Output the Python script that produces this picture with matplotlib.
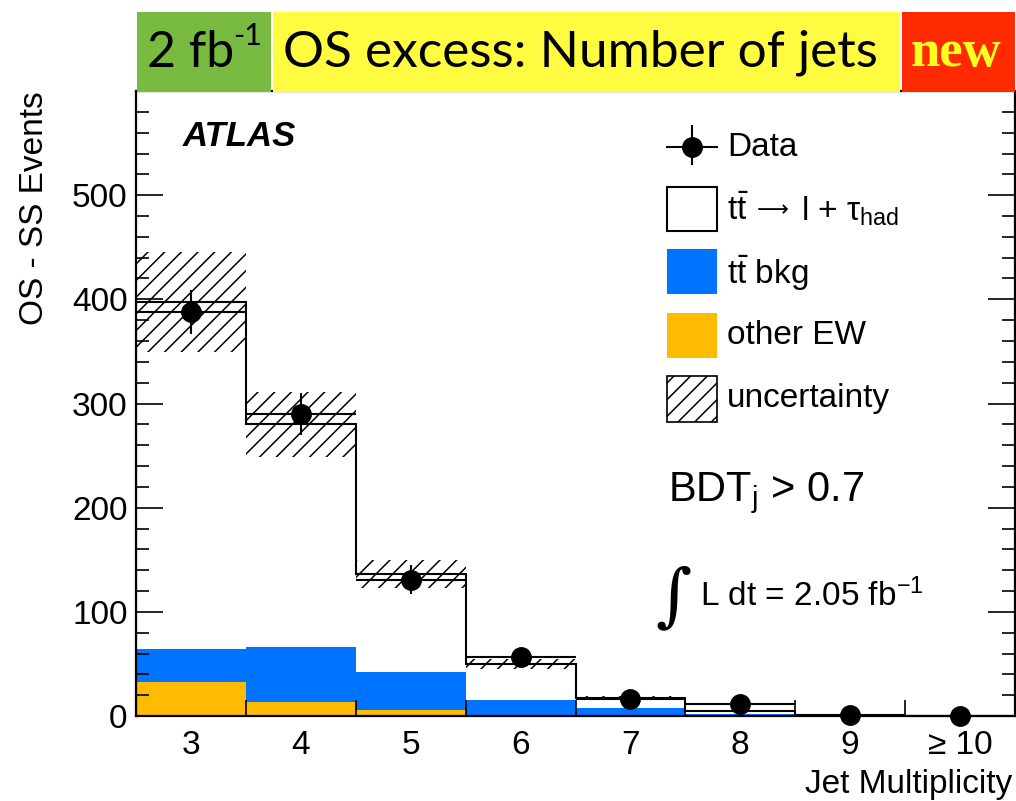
import matplotlib
matplotlib.use("Agg")
import matplotlib.pyplot as plt
from matplotlib.patches import Rectangle
from matplotlib.lines import Line2D
import numpy as np

# ---- values per jet-multiplicity bin ----
jet_labels = ["3", "4", "5", "6", "7", "8", "9", "≥ 10"]
data_counts = [388, 290, 131, 57, 16, 12, 0.5, 0]
data_errors = [21, 20, 14, 8, 4, 3.5, 0, 0]
ttbar_signal = [333, 214, 94, 34.5, 9.6, 2.5, 0, 0]   # tt -> l + tau_had
ttbar_bkg = [31, 53, 36, 15, 7, 1.8, 0, 0]
other_ew = [33, 13, 6, 0.5, 0.4, 0.2, 0, 0]
syst_unc = [48, 31, 13.5, 5, 2, 1, 0, 0]

plt.rcParams["font.family"] = ["Liberation Sans", "DejaVu Sans"]
plt.rcParams["mathtext.fontset"] = "custom"
plt.rcParams["mathtext.rm"] = "Liberation Sans"
plt.rcParams["mathtext.it"] = "Liberation Sans:italic"
plt.rcParams["mathtext.bf"] = "Liberation Sans:bold"
plt.rcParams["hatch.linewidth"] = 1.1

W, H = 1016, 801
fig = plt.figure(figsize=(W / 100, H / 100), dpi=100)


def fx(x):
    return x / W


def fy(y):
    return 1 - y / H


ax = fig.add_axes([fx(136), fy(716), (1015 - 136) / W, (716 - 91) / H])

n = len(jet_labels)
centers = np.arange(3, 3 + n)
edges = np.arange(2.5, 3 + n, 1.0)
ew = np.array(other_ew)
bkg = np.array(ttbar_bkg)
sig = np.array(ttbar_signal)
total = ew + bkg + sig
unc = np.array(syst_unc)

orange = "#ffbb00"
blue = "#0073ff"

ax.bar(centers, ew, width=1.0, color=orange, lw=0, zorder=1)
ax.bar(centers, bkg, bottom=ew, width=1.0, color=blue, lw=0, zorder=1)
ax.bar(centers, sig, bottom=ew + bkg, width=1.0, color="white", lw=0, zorder=1)
ax.stairs(total, edges, color="black", lw=1.5, zorder=3)

has_mc = total > 0
ax.bar(centers[has_mc], 2 * unc[has_mc], bottom=(total - unc)[has_mc], width=1.0,
       fill=False, hatch="//", edgecolor="black", lw=0, zorder=2)

ax.errorbar(centers, data_counts, yerr=data_errors, xerr=0.5, fmt="o",
            color="black", ms=14, elinewidth=1.5, capsize=0, zorder=5,
            clip_on=False)

ax.set_xlim(2.5, 2.5 + n)
ax.set_ylim(0, 600)

ax.set_xticks(edges)
ax.set_xticklabels([])
ax.set_xticks(centers, minor=True)
ax.set_xticklabels(jet_labels, minor=True)
ax.tick_params(axis="x", which="major", direction="in", length=11.5, width=1.2,
               top=False, bottom=True)
ax.tick_params(axis="x", which="minor", length=0, pad=10, labelsize=24)

ax.set_yticks(np.arange(0, 600, 100))
ax.set_yticks(np.arange(0, 601, 20), minor=True)
ax.tick_params(axis="y", which="major", direction="in", length=19.5, width=1.2,
               left=True, right=True, labelsize=24, pad=6)
ax.tick_params(axis="y", which="minor", direction="in", length=9.5, width=1.2,
               left=True, right=True)
for s in ax.spines.values():
    s.set_linewidth(1.6)

ax.set_ylabel("OS - SS Events", fontsize=24, loc="top", labelpad=16)
fig.text(fx(1012), fy(785), "Jet Multiplicity", fontsize=24, ha="right",
         va="center")

# ATLAS label and selection text
fig.text(fx(183), fy(136), "ATLAS", fontsize=25, fontweight="bold",
         fontstyle="italic", va="center", ha="left")
fig.text(fx(668), fy(493), r"BDT$_{\mathrm{j}}$ > 0.7", fontsize=30,
         va="center", ha="left")
fig.text(fx(655), fy(598), "∫", fontsize=50, family=["DejaVu Serif"],
         fontstyle="italic", va="center", ha="left")
fig.text(fx(700), fy(596), r"L dt = 2.05 fb$^{\mathrm{-1}}$", fontsize=24,
         va="center", ha="left")

# legend, drawn by hand
lx0, lx1 = 667, 717
mx = (lx0 + lx1) / 2
fig.add_artist(Line2D([fx(lx0), fx(lx1)], [fy(147), fy(147)], color="black",
                      lw=1.5, transform=fig.transFigure))
fig.add_artist(Line2D([fx(mx), fx(mx)], [fy(126), fy(164)], color="black",
                      lw=1.5, transform=fig.transFigure))
fig.add_artist(Line2D([fx(mx)], [fy(147)], marker="o", ms=14, color="black",
                      transform=fig.transFigure))

boxes = [
    (187, 231, dict(facecolor="white", edgecolor="black", lw=1.5)),
    (249, 294, dict(facecolor=blue, edgecolor=blue, lw=0)),
    (313, 358, dict(facecolor=orange, edgecolor=orange, lw=0)),
    (376, 422, dict(facecolor="white", edgecolor="black", lw=1.2, hatch="//")),
]
for top, bot, kw in boxes:
    fig.add_artist(Rectangle((fx(lx0), fy(bot)), fx(lx1) - fx(lx0),
                             fy(top) - fy(bot), transform=fig.transFigure, **kw))

legend_texts = [
    (147, "Data"),
    (273, r"$\mathrm{t\bar{t}}$ bkg"),
    (336, "other EW"),
    (398, "uncertainty"),
]
for y, t in legend_texts:
    fig.text(fx(727), fy(y), t, fontsize=24, va="center", ha="left")
# signal entry: tt -> l + tau_had, with a long thin arrow
fig.text(fx(727), fy(211), r"$\mathrm{t\bar{t}}$", fontsize=24, va="center",
         ha="left")
fig.text(fx(757), fy(210), "⟶", fontsize=16, family=["DejaVu Sans"],
         va="center", ha="left")
fig.text(fx(801), fy(211), r"l + τ$_{\mathrm{had}}$", fontsize=24,
         va="center", ha="left")

# title banner
banner = [
    (137, 271, "#78bb40"),
    (273, 900, "#fffb40"),
    (902, 1015, "#ff2a00"),
]
for x0, x1, c in banner:
    fig.add_artist(Rectangle((fx(x0), fy(92)), fx(x1) - fx(x0), fy(12) - fy(92),
                             transform=fig.transFigure, facecolor=c,
                             edgecolor="none"))
fig.text(fx(147), fy(53), "2 fb", fontsize=36, family="Lato", va="center",
         ha="left")
fig.text(fx(233), fy(36), "-1", fontsize=22, family="Lato", va="center",
         ha="left")
fig.text(fx(283), fy(53), "OS excess: Number of jets", fontsize=37,
         family="Lato", va="center", ha="left")
fig.text(fx(956), fy(53), "new", fontsize=38, family="Liberation Serif",
         fontweight="bold", color="#ffff20", va="center", ha="center")

fig.savefig("out.png", dpi=100)
